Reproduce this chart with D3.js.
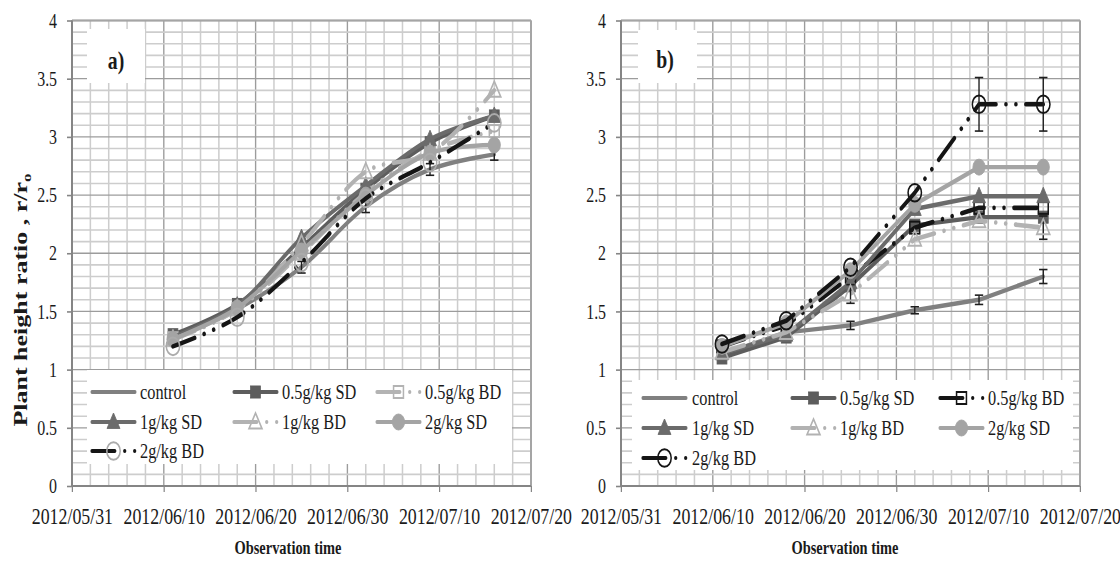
<!DOCTYPE html>
<html>
<head>
<meta charset="utf-8">
<script src="https://cdn.jsdelivr.net/npm/d3@7"></script>
<style>
  body { margin: 0; background: #fff; }
  svg { display: block; }
  svg text { font-family: "Liberation Serif", Tinos, "Times New Roman", Times, "DejaVu Serif", serif; }
</style>
</head>
<body>
<svg id="chart" width="1120" height="565"></svg>
<script>
// ---- data -------------------------------------------------------------
const obsDates = ["2012-06-11", "2012-06-18", "2012-06-25", "2012-07-02", "2012-07-09", "2012-07-16"];
const seriesNames = ["control", "0.5g/kg SD", "0.5g/kg BD", "1g/kg SD", "1g/kg BD", "2g/kg SD", "2g/kg BD"];
const xTickDates = ["2012-05-31", "2012-06-10", "2012-06-20", "2012-06-30", "2012-07-10", "2012-07-20"];
const yTickValues = [0, 0.5, 1, 1.5, 2, 2.5, 3, 3.5, 4];

// panel a) plant height ratio
const aControl = [1.27, 1.52, 1.88, 2.40, 2.72, 2.85];
const aSD05    = [1.30, 1.56, 2.05, 2.55, 2.95, 3.18];
const aBD05    = [1.27, 1.52, 2.00, 2.52, 2.88, 3.05];
const aSD1     = [1.28, 1.55, 2.13, 2.58, 2.98, 3.18];
const aBD1     = [1.26, 1.52, 2.08, 2.70, 2.86, 3.40];
const aSD2     = [1.26, 1.53, 2.02, 2.50, 2.86, 2.93];
const aBD2     = [1.20, 1.45, 1.92, 2.47, 2.78, 3.12];
const aErrControl = [null, null, 0.05, 0.05, 0.05, 0.05];

// panel b) plant height ratio
const bControl = [1.13, 1.32, 1.38, 1.51, 1.60, 1.80];
const bSD05    = [1.10, 1.28, 1.72, 2.24, 2.31, 2.31];
const bBD05    = [1.20, 1.38, 1.80, 2.22, 2.39, 2.39];
const bSD1     = [1.14, 1.30, 1.75, 2.38, 2.49, 2.49];
const bBD1     = [1.15, 1.32, 1.65, 2.12, 2.28, 2.22];
const bSD2     = [1.20, 1.40, 1.85, 2.42, 2.74, 2.74];
const bBD2     = [1.22, 1.42, 1.88, 2.52, 3.28, 3.28];
const bErrControl = [null, null, 0.035, 0.03, 0.04, 0.06];
const bErrBD1     = [null, null, 0.08, null, null, 0.10];
const bErrBD2     = [null, null, null, null, 0.23, 0.23];

// ---- layout -----------------------------------------------------------
// the whole drawing is laid out in a wider frame and squeezed horizontally
const SX = 0.76;
const yTop = 20.5, yBot = 486;
const parse = d3.timeParse("%Y-%m-%d");
const fmt = d3.timeFormat("%Y/%m/%d");
const FONT = '"Liberation Serif", Tinos, "Times New Roman", Times, "DejaVu Serif", serif';

const svg = d3.select("#chart");
svg.append("rect").attr("width", 1120).attr("height", 565).attr("fill", "#fff");
const root = svg.append("g").attr("transform", `scale(${SX},1)`);

const DASH = "30 13 0.1 13 0.1 13";

function styleFor(panel, name) {
  return {
    "control":    { color: "#808080", dash: null, marker: null },
    "0.5g/kg SD": { color: "#5d5d5d", dash: null, marker: "square", fill: true },
    "0.5g/kg BD": { color: panel === "a" ? "#b3b3b3" : "#151515", dash: DASH, marker: "square", fill: false },
    "1g/kg SD":   { color: "#6b6b6b", dash: null, marker: "triangle", fill: true },
    "1g/kg BD":   { color: "#b2b2b2", dash: DASH, marker: "triangle", fill: false },
    "2g/kg SD":   { color: "#a4a4a4", dash: null, marker: "circle", fill: true },
    "2g/kg BD":   { color: "#151515", dash: DASH, marker: "circle", fill: false,
                    markerColor: panel === "a" ? "#ababab" : "#151515" }
  }[name];
}

function drawMarker(g, type, cx, cy, st) {
  const mc = st.markerColor || st.color;
  const fill = st.fill ? mc : "none";
  const sw = st.fill ? 1 : 2;
  if (type === "square") {
    g.append("rect").attr("x", cx - 6.5).attr("y", cy - 6).attr("width", 13).attr("height", 12)
      .attr("fill", fill).attr("stroke", mc).attr("stroke-width", sw);
  } else if (type === "triangle") {
    g.append("path").attr("d", `M${cx},${cy - 9}L${cx + 8.5},${cy + 6.5}L${cx - 8.5},${cy + 6.5}Z`)
      .attr("fill", fill).attr("stroke", mc).attr("stroke-width", sw);
  } else if (type === "circle") {
    g.append("circle").attr("cx", cx).attr("cy", cy).attr("r", st.fill ? 8 : 8.8)
      .attr("fill", fill).attr("stroke", mc).attr("stroke-width", sw);
  }
}

function label(sel) {
  return sel.style("font-family", FONT).attr("fill", "#1a1a1a");
}

const panels = [
  {
    key: "a", x0: 72, x1: 531, letterBox: [87, 29, 145, 83], letterX: 116, letterY: 69,
    series: [aControl, aSD05, aBD05, aSD1, aBD1, aSD2, aBD2],
    errors: [[0, aErrControl]],
    curve: d3.curveCatmullRom.alpha(0.5),
    legendBox: [87, 370, 512, 464], legendCols: [[92, 140], [234, 282], [377, 425]], legendRows: [392, 422, 451],
    titleX: 288
  },
  {
    key: "b", x0: 621, x1: 1080, letterBox: [638, 30, 697, 83], letterX: 665, letterY: 68,
    series: [bControl, bSD05, bBD05, bSD1, bBD1, bSD2, bBD2],
    errors: [[0, bErrControl], [4, bErrBD1], [6, bErrBD2]],
    curve: d3.curveLinear,
    legendBox: [632, 380, 1073, 470], legendCols: [[643, 692], [792, 840], [940, 988]], legendRows: [398, 428, 458],
    titleX: 845
  }
];

panels.forEach(p => {
  const g = root.append("g");
  const start = parse(xTickDates[0]), end = parse(xTickDates[xTickDates.length - 1]);
  const x = d3.scaleTime().domain([start, end]).range([p.x0 / SX, p.x1 / SX]);
  const y = d3.scaleLinear().domain([0, 4]).range([yBot, yTop]);
  const xl = x.range()[0], xr = x.range()[1];

  // minor and major grid
  const grid = g.append("g");
  const nDays = d3.timeDay.count(start, end);
  d3.range(0, nDays + 1, 2).forEach(d => {
    const xx = x(d3.timeDay.offset(start, d));
    const major = d % 10 === 0;
    grid.append("line").attr("x1", xx).attr("x2", xx).attr("y1", yTop).attr("y2", yBot)
      .attr("stroke", major ? "#9c9c9c" : "#cdcdcd").attr("stroke-width", major ? 1.8 : 2);
  });
  d3.range(0, 41).forEach(i => {
    const yy = y(i / 10);
    const major = i % 5 === 0;
    grid.append("line").attr("x1", xl).attr("x2", xr).attr("y1", yy).attr("y2", yy)
      .attr("stroke", major ? "#9c9c9c" : "#cdcdcd").attr("stroke-width", major ? 1.3 : 1.6);
  });

  // frame
  g.append("line").attr("x1", xl).attr("x2", xr).attr("y1", yTop).attr("y2", yTop)
    .attr("stroke", "#a5a5a5").attr("stroke-width", 2);
  g.append("line").attr("x1", xr).attr("x2", xr).attr("y1", yTop).attr("y2", yBot)
    .attr("stroke", "#a5a5a5").attr("stroke-width", 2.6);

  // axes
  const yAxis = g.append("g").attr("transform", `translate(${xl},0)`)
    .call(d3.axisLeft(y).tickValues(yTickValues).tickFormat(d => String(d)).tickSize(6.6).tickPadding(13));
  const xAxis = g.append("g").attr("transform", `translate(0,${yBot})`)
    .call(d3.axisBottom(x).tickValues(xTickDates.map(parse)).tickFormat(fmt).tickSize(6).tickPadding(15));
  [yAxis, xAxis].forEach(ax => {
    ax.attr("font-family", null);
    ax.select(".domain").remove();
    ax.selectAll(".tick line").attr("stroke", "#858585").attr("stroke-width", 1.6);
    label(ax.selectAll(".tick text"));
  });
  yAxis.attr("font-size", 21);
  xAxis.attr("font-size", 23.5);
  g.append("line").attr("x1", xl).attr("x2", xl).attr("y1", yTop).attr("y2", yBot)
    .attr("stroke", "#858585").attr("stroke-width", 2.6);
  g.append("line").attr("x1", xl).attr("x2", xr).attr("y1", yBot).attr("y2", yBot)
    .attr("stroke", "#858585").attr("stroke-width", 2);

  // series lines, markers, error bars
  const dts = obsDates.map(parse);
  const line = d3.line().x(d => x(d[0])).y(d => y(d[1])).curve(p.curve);
  const marks = g.append("g");
  p.series.forEach((vals, i) => {
    const st = styleFor(p.key, seriesNames[i]);
    const pts = dts.map((d, j) => [d, vals[j]]);
    const path = marks.append("path").attr("d", line(pts)).attr("fill", "none")
      .attr("stroke", st.color).attr("stroke-width", st.dash ? 4.6 : 4.4)
      .attr("stroke-linejoin", "round").attr("stroke-linecap", "round");
    if (st.dash) path.attr("stroke-dasharray", st.dash);
    const err = p.errors.find(e => e[0] === i);
    if (err) {
      err[1].forEach((e, j) => {
        if (e == null) return;
        const xx = x(dts[j]);
        const y1 = y(vals[j] - e), y2 = y(vals[j] + e);
        marks.append("line").attr("x1", xx).attr("x2", xx).attr("y1", y1).attr("y2", y2)
          .attr("stroke", "#1e1e1e").attr("stroke-width", 1.8);
        [y1, y2].forEach(yy => marks.append("line").attr("x1", xx - 5.5).attr("x2", xx + 5.5)
          .attr("y1", yy).attr("y2", yy).attr("stroke", "#1e1e1e").attr("stroke-width", 1.6));
      });
    }
    if (st.marker) pts.forEach(pt => drawMarker(marks, st.marker, x(pt[0]), y(pt[1]), st));
  });

  // panel letter
  const lb = p.letterBox;
  g.append("rect").attr("x", lb[0] / SX).attr("y", lb[1]).attr("width", (lb[2] - lb[0]) / SX)
    .attr("height", lb[3] - lb[1]).attr("fill", "#fff");
  label(g.append("text")).attr("x", p.letterX / SX).attr("y", p.letterY).attr("text-anchor", "middle")
    .attr("font-size", 26).attr("font-weight", "bold").text(p.key + ")");

  // legend
  const bx = p.legendBox;
  const leg = g.append("g");
  leg.append("rect").attr("x", bx[0] / SX).attr("y", bx[1]).attr("width", (bx[2] - bx[0]) / SX)
    .attr("height", bx[3] - bx[1]).attr("fill", "#fff");
  const L = 43 / SX;
  seriesNames.forEach((name, i) => {
    const col = p.legendCols[i % 3], row = p.legendRows[Math.floor(i / 3)];
    const st = styleFor(p.key, name);
    const lx = col[0] / SX;
    const ln = leg.append("line").attr("x1", lx).attr("x2", lx + L).attr("y1", row).attr("y2", row)
      .attr("stroke", st.color).attr("stroke-width", st.dash ? 4.2 : 4).attr("stroke-linecap", "round");
    if (st.dash) ln.attr("stroke-dasharray", DASH);
    if (st.marker) drawMarker(leg, st.marker, lx + L / 2, row, st);
    label(leg.append("text")).attr("x", col[1] / SX).attr("y", row + 7.5).attr("font-size", 21.5).text(name);
  });

  // x title
  label(g.append("text")).attr("x", p.titleX / SX).attr("y", 554).attr("text-anchor", "middle")
    .attr("font-size", 19).attr("font-weight", "bold").text("Observation time");
});

// y title
const yt = label(root.append("text")).attr("transform", `translate(${27 / SX},300) rotate(-90)`)
  .attr("text-anchor", "middle").attr("font-size", 26).attr("font-weight", "bold");
yt.append("tspan").text("Plant height ratio , r/r");
yt.append("tspan").attr("font-size", 17).attr("dy", 5).text("o");
</script>
</body>
</html>
